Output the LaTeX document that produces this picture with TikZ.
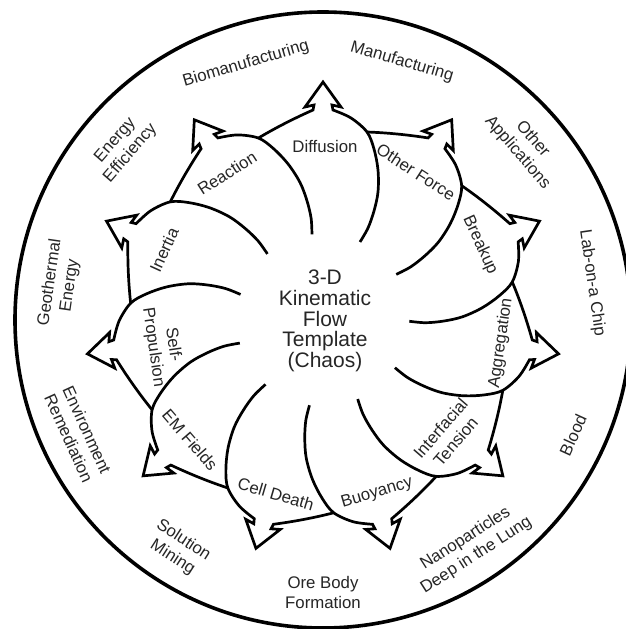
\documentclass[tikz,border=0pt]{standalone}
\usepackage{fontspec}
\setmainfont{Liberation Sans}
\begin{document}
\begin{tikzpicture}[x=1pt,y=1pt,
  petal/.style={line width=2.7pt, line join=miter, line cap=butt},
  rim/.style={line width=3.6pt},
  lab/.style={font=\fontsize{16.8}{20}\selectfont, align=center, text=black!85, inner sep=0pt},
  ctr/.style={font=\fontsize{21}{20.8}\selectfont, align=center, text=black!85, inner sep=0pt}]
\useasboundingbox (-323,-309) rectangle (303,320);
\fill[white] (-323,-309) rectangle (303,320);
\clip (-323,-309) rectangle (303,320);
\draw[rim] (0,0) circle (308);
\foreach \i in {0,...,10}{
  \begin{scope}[rotate={-\i*32.72727}]
    \draw[petal] plot[smooth, tension=0.55] coordinates {(37,78) (45,92) (51,109) (55,128) (55,150) (51,171) (44,188) (28,202) (10,210)}
      -- (9,215) -- (18,213) -- (0,238) -- (-18,213) -- (-9,215) -- (-10,210)
      .. controls (-28,202) and (-46,193) .. (-64.63,181.94);
  \end{scope}
}
\node[ctr] (center) at (2,-1) {3-D\\Kinematic\\Flow\\Template\\(Chaos)};
% petal labels
\node[lab] (diff) at (2,174) {Diffusion};
\node[lab, rotate=-32.7] (oforce) at (93,148) {Other Force};
\node[lab, rotate=-65.5] (break) at (157,75) {Breakup};
\node[lab, rotate=81.8] (aggr) at (178,-23) {Aggregation};
\node[lab, rotate=49.1] (itens) at (125,-115) {Interfacial\\Tension};
\node[lab, rotate=16.4] (buoy) at (54,-173) {Buoyancy};
\node[lab, rotate=-16.4] (cdeath) at (-47,-174) {Cell Death};
\node[lab, rotate=-49.1] (emf) at (-133,-120) {EM Fields};
\node[lab, rotate=-81.8] (selfp) at (-160,-26) {Self-\\Propulsion};
\node[lab, rotate=65.5] (inert) at (-159,70) {Inertia};
\node[lab, rotate=32.7] (react) at (-96,147) {Reaction};
% outer labels
\node[lab, rotate=16.4] (biom) at (-77,256) {Biomanufacturing};
\node[lab, rotate=-16.4] (manu) at (79,258) {Manufacturing};
\node[lab, rotate=-49.1] (oapp) at (202,174) {Other\\Applications};
\node[lab, rotate=-81.8] (lab) at (269,37) {Lab-on-a Chip};
\node[lab, rotate=65.5] (blood) at (250,-115) {Blood};
\node[lab, rotate=32.7] (nano) at (148,-227) {Nanoparticles\\Deep in the Lung};
\node[lab] (ore) at (0,-272) {Ore Body\\Formation};
\node[lab, rotate=-32.7] (sol) at (-145,-229) {Solution\\Mining};
\node[lab, rotate=-65.5] (env) at (-245,-114) {Environment\\Remediation};
\node[lab, rotate=81.8] (geo) at (-263,36) {Geothermal\\Energy};
\node[lab, rotate=49.1] (eeff) at (-200,173) {Energy\\Efficiency};
\end{tikzpicture}
\end{document}
